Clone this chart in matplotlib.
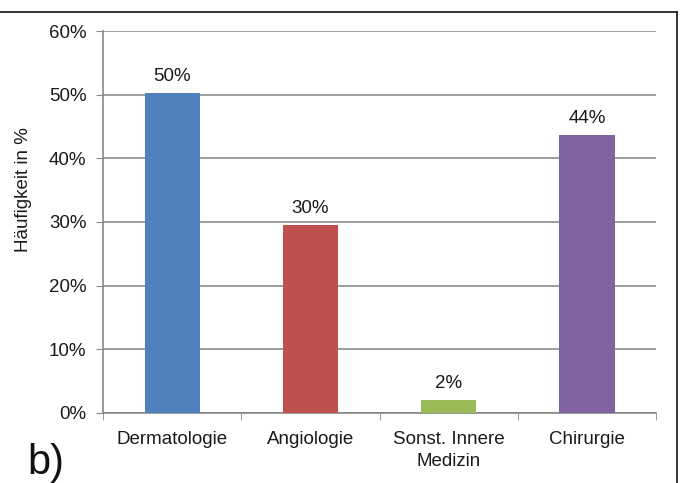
import matplotlib.pyplot as plt
from matplotlib.lines import Line2D

plt.rcParams['font.family'] = ['Liberation Sans', 'DejaVu Sans']

kategorien = ['Dermatologie', 'Angiologie', 'Sonst. Innere\nMedizin', 'Chirurgie']
werte = [0.502, 0.295, 0.020, 0.436]
beschriftung = ['50%', '30%', '2%', '44%']
farben = ['#4F81BD', '#C0504D', '#9BBB59', '#8064A2']
y_ticks = [0, 0.1, 0.2, 0.3, 0.4, 0.5, 0.6]
y_tick_labels = ['0%', '10%', '20%', '30%', '40%', '50%', '60%']

fs = 13.5
fig = plt.figure(figsize=(6.8, 4.83), dpi=100)
ax = fig.add_axes([0.1515, 0.145, 0.8135, 0.7908])

x = range(len(kategorien))
balken = ax.bar(x, werte, width=0.4, color=farben, zorder=3)
for b, t in zip(balken, beschriftung):
    ax.annotate(t, (b.get_x() + b.get_width() / 2, b.get_height()),
                xytext=(0, 6), textcoords='offset points',
                ha='center', va='bottom', fontsize=fs, color='#1a1a1a')

ax.set_xlim(-0.5, len(kategorien) - 0.5)
ax.set_ylim(0, 0.6)
ax.set_yticks(y_ticks)
ax.set_yticklabels(y_tick_labels, fontsize=fs, color='#1a1a1a')
ax.set_xticks(list(x))
ax.set_xticklabels(kategorien, fontsize=fs, color='#1a1a1a', linespacing=1.35)
ax.tick_params(axis='x', length=0, pad=13)
ax.set_xticks([i - 0.5 for i in range(len(kategorien) + 1)], minor=True)
ax.tick_params(axis='x', which='minor', length=5, color='#888888', direction='out')
ax.tick_params(axis='y', length=5, color='#888888', direction='out', pad=7)

ax.grid(axis='y', color='#8c8c8c', linewidth=1.2, zorder=0)
for s in ['top', 'right']:
    ax.spines[s].set_visible(False)
for s in ['left', 'bottom']:
    ax.spines[s].set_color('#888888')
    ax.spines[s].set_linewidth(1.2)

fig.text(24 / 680, 1 - 190 / 483, 'Häufigkeit in %', rotation=90,
         ha='center', va='center', fontsize=fs, color='#1a1a1a')
fig.text(27 / 680, 1 - 474 / 483, 'b)', fontsize=30, ha='left',
         va='baseline', color='#111111')

# Rahmen oben und rechts
fig.add_artist(Line2D([0, 677 / 680], [1 - 12 / 483, 1 - 12 / 483],
                      transform=fig.transFigure, color='#222222', linewidth=1.3))
fig.add_artist(Line2D([677 / 680, 677 / 680], [0, 1 - 12 / 483],
                      transform=fig.transFigure, color='#222222', linewidth=1.3))

fig.savefig('out.png', dpi=100)
